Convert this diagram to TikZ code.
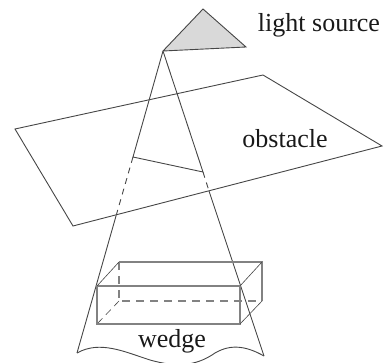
\documentclass[tikz,border=0pt]{standalone}
\usepackage{fontspec}
\setmainfont{Liberation Serif}
\usetikzlibrary{calc}
\definecolor{edge}{RGB}{70,70,70}
\definecolor{boxedge}{RGB}{130,130,130}

\begin{document}
\begin{tikzpicture}[
    x=1pt, y=-1pt,
    edge/.style={draw=edge, line width=0.9pt},
    beam/.style={edge, dash pattern=on 6pt off 5pt},
    boxline/.style={draw=boxedge, line width=1.3pt},
    boxhidden/.style={boxline, dash pattern=on 8pt off 6pt},
    label/.style={inner sep=0pt, text=black!90, font=\fontsize{26}{30}\selectfont}
]
\useasboundingbox (0,0) rectangle (385,363);

% light source
\coordinate (apex) at (163,51);
\coordinate (top) at (203,9);
\coordinate (right) at (246,47);
\filldraw[edge, fill=gray!30] (apex) -- (top) -- (right) -- cycle;
\node[label] (source) at (319,25) {light source};

% obstacle
\coordinate (oa) at (15,129);
\coordinate (ob) at (263,75);
\coordinate (oc) at (382,146);
\coordinate (od) at (73,226);
\draw[edge] (oa) -- (ob) -- (oc) -- (od) -- cycle;
\node[label] (obstacle) at (285,139) {obstacle};

% beam through the obstacle
\coordinate (cutl) at (133,157);
\coordinate (cutr) at (203,172);
\coordinate (exitl) at (116,216);
\coordinate (exitr) at (209,191);
\coordinate (footl) at (77,353);
\coordinate (footr) at (264,356);
\draw[edge] (apex) -- (cutl) -- (cutr) -- (apex);
\draw[beam] (cutl) -- (exitl);
\draw[beam] (cutr) -- (exitr);
\draw[edge] (exitl) -- (footl);
\draw[edge] (exitr) -- (footr);

% bottom of the wedge
\draw[edge] (footl) .. controls (100,340) and (125,352) .. (150,360)
    .. controls (175,367) and (195,367) .. (215,353)
    .. controls (232,343) and (248,347) .. (footr);
\node[label] (wedge) at (172,341) {wedge};

% box
\coordinate (fa) at (97,286);
\coordinate (fb) at (240,286);
\coordinate (fc) at (240,324);
\coordinate (fd) at (97,324);
\coordinate (ba) at (119,262);
\coordinate (bb) at (262,262);
\coordinate (bc) at (262,301);
\coordinate (bd) at (119,301);
\draw[boxhidden] (ba) -- (bd) -- (bc);
\draw[edge, line width=0.6pt, dash pattern=on 7pt off 5pt] (bd) -- (fd);
\draw[boxline] (fa) rectangle (fc);
\draw[boxline] (ba) -- (bb) -- (bc);
\draw[edge, line width=0.6pt] (fa) -- (ba);
\draw[edge, line width=0.6pt] (fb) -- (bb);
\draw[edge, line width=0.6pt] (fc) -- (bc);

\end{tikzpicture}
\end{document}
